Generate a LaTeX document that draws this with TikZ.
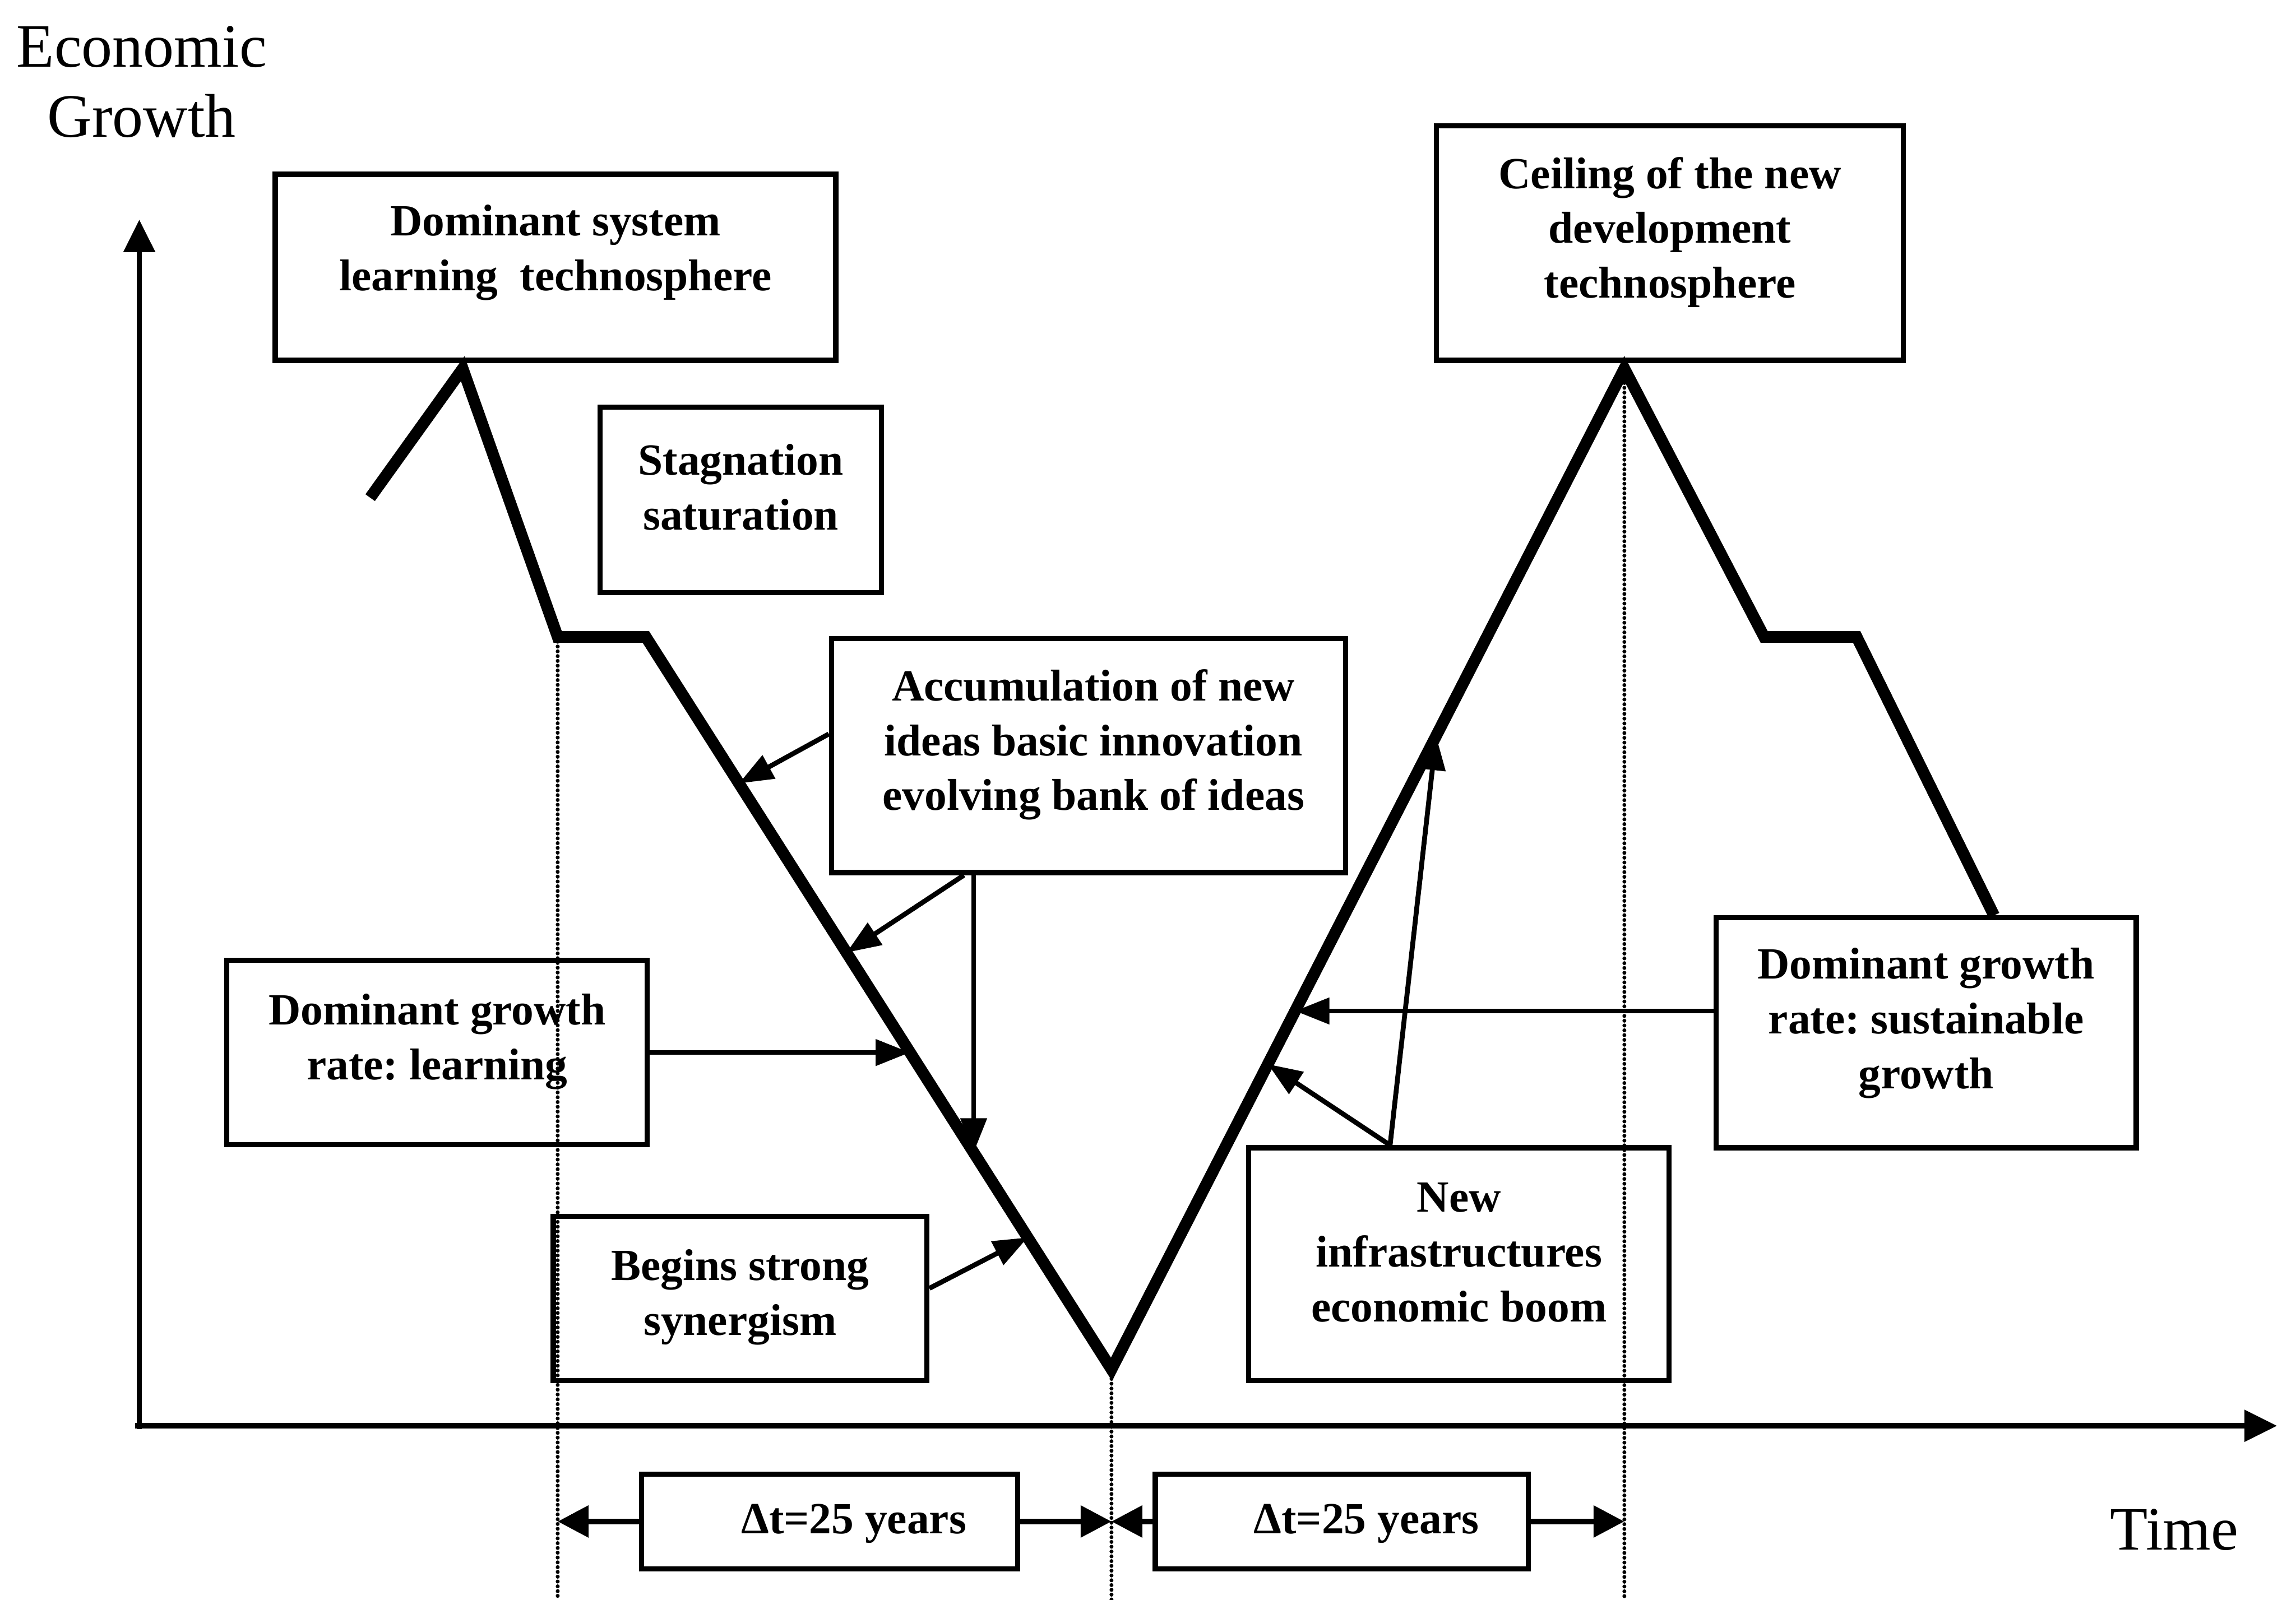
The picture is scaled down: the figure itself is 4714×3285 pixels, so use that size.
\documentclass[tikz,border=0pt]{standalone}
\usepackage{fontspec}
\setmainfont{Liberation Serif}
\usetikzlibrary{arrows.meta,calc,fit}
\frenchspacing
\begin{document}
\begin{tikzpicture}[x=0.01cm,y=-0.01cm,
  box/.style={draw, line width=3pt, inner sep=0pt},
  btxt/.style={align=center, font=\bfseries\fontsize{26}{32}\selectfont, inner sep=0pt},
  axlbl/.style={align=center, font=\fontsize{36}{41}\selectfont, inner sep=0pt},
  mainline/.style={line width=6.8pt, line cap=butt, line join=miter},
  conn/.style={line width=2.85pt, -{Triangle[length=20pt,width=15pt]}},
  axisline/.style={line width=3.1pt, -{Triangle[length=19pt,width=18pt]}},
  dim/.style={line width=3.4pt, -{Triangle[length=18pt,width=18pt]}},
  dots/.style={line width=2.3pt, dash pattern=on 0pt off 2.8pt, line cap=round}
]
\useasboundingbox (0,0) rectangle (4714,3285);
\coordinate (bot) at (0,3285);

% axes
\coordinate (yb) at (286,2935);
\coordinate (yt) at (286,451);
\coordinate (xl) at (277,2928);
\coordinate (xr) at (4675,2928);
\draw[axisline] (yb) -- (yt);
\draw[axisline] (xl) -- (xr);
\node[axlbl] (eg) at (291,168) {Economic\\Growth};
\node[axlbl] (tm) at (4464,3141) {Time};

% main curve
\coordinate (P0) at (760,1022);
\coordinate (P1) at (950,757);
\coordinate (P2) at (1145,1308);
\coordinate (P3) at (1326,1308);
\coordinate (P4) at (2282,2812);
\coordinate (P5) at (3335,757);
\coordinate (P6) at (3622,1308);
\coordinate (P7) at (3812,1308);
\coordinate (P8) at (4094,1880);

% dotted guides
\draw[dots] (P2) -- (P2 |- bot);
\draw[dots] (P4) -- (P4 |- bot);
\draw[dots] (P5) -- (P5 |- bot);

\draw[mainline] (P0) -- (P1) -- (P2) -- (P3) -- (P4) -- (P5) -- (P6) -- (P7) -- (P8);

% boxes
\node[box, fit={(565,358) (1716,740)}] (b1) {};
\node[box, fit={(1232,836) (1810,1217)}] (b2) {};
\node[box, fit={(1707,1311) (2763,1792)}] (b3) {};
\node[box, fit={(466,1972) (1329,2351)}] (b4) {};
\node[box, fit={(1136,2498) (1903,2835)}] (b5) {};
\node[box, fit={(2564,2357) (3427,2835)}] (b6) {};
\node[box, fit={(2949,258) (3908,740)}] (b7) {};
\node[box, fit={(3523,1885) (4386,2357)}] (b8) {};
\node[box, fit={(1317,3027) (2089,3222)}] (b9) {};
\node[box, fit={(2372,3027) (3138,3222)}] (b10) {};

\node[btxt] (b1t) at ([yshift=0.30cm]b1.center) {Dominant system\\learning\ \ technosphere};
\node[btxt] (b2t) at ([yshift=0.26cm]b2.center) {Stagnation\\saturation};
\node[btxt] (b3t) at ([yshift=0.22cm,xshift=0.1cm]b3.center) {Accumulation of new\\ideas basic innovation\\evolving bank of ideas};
\node[btxt] (b4t) at ([yshift=0.22cm]b4.center) {Dominant growth\\rate: learning};
\node[btxt] (b5t) at ([yshift=0.03cm]b5.center) {Begins strong\\synergism};
\node[btxt] (b6t) at ([yshift=0.24cm]b6.center) {New\\infrastructures\\economic boom};
\node[btxt] (b7t) at ([yshift=0.22cm]b7.center) {Ceiling of the new\\development\\technosphere};
\node[btxt] (b8t) at ([yshift=0.20cm]b8.center) {Dominant growth\\rate: sustainable\\growth};
\node[btxt] (b9t) at ([xshift=0.5cm,yshift=-0.05cm]b9.center) {Δt=25 years};
\node[btxt] (b10t) at ([xshift=0.5cm,yshift=-0.05cm]b10.center) {Δt=25 years};

% connectors, left branch
\coordinate (as) at ($(b3.north west)!0.41!(b3.south west)$);
\coordinate (ta) at ($(P3)!0.2!(P4)$);
\draw[conn] (as) -- (ta);
\coordinate (bs) at ($(b3.south west)!0.26!(b3.south east)$);
\coordinate (tb) at ($(P3)!0.431!(P4)$);
\draw[conn] (bs) -- (tb);
\coordinate (tc) at ($(P3)!0.704!(P4)$);
\draw[conn] (tc |- b3.south) -- (tc);
\coordinate (td) at ($(P3)!0.567!(P4)$);
\draw[conn] (b4.east) -- (td |- b4.east);
\coordinate (es) at ($(b5.north east)!0.44!(b5.south east)$);
\coordinate (te) at ($(P3)!0.82!(P4)$);
\draw[conn] (es) -- (te);

% connectors, right branch
\coordinate (fs) at ($(b6.north west)!0.338!(b6.north east)$);
\coordinate (tf) at ($(P4)!0.633!(P5)$);
\coordinate (tg) at ($(P4)!0.305!(P5)$);
\draw[conn] (fs) -- (tf);
\draw[conn] (fs) -- (tg);
\coordinate (hs) at ($(b8.north west)!0.407!(b8.south west)$);
\coordinate (th) at ($(P4)!0.358!(P5)$);
\draw[conn] (hs) -- (th |- hs);

% time spans
\draw[dim] (b9.west) -- (b9.west -| P2);
\draw[dim] (b9.east) -- (b9.east -| P4);
\draw[dim] (b10.west) -- (b10.west -| P4);
\draw[dim] (b10.east) -- (b10.east -| P5);
\end{tikzpicture}
\end{document}
